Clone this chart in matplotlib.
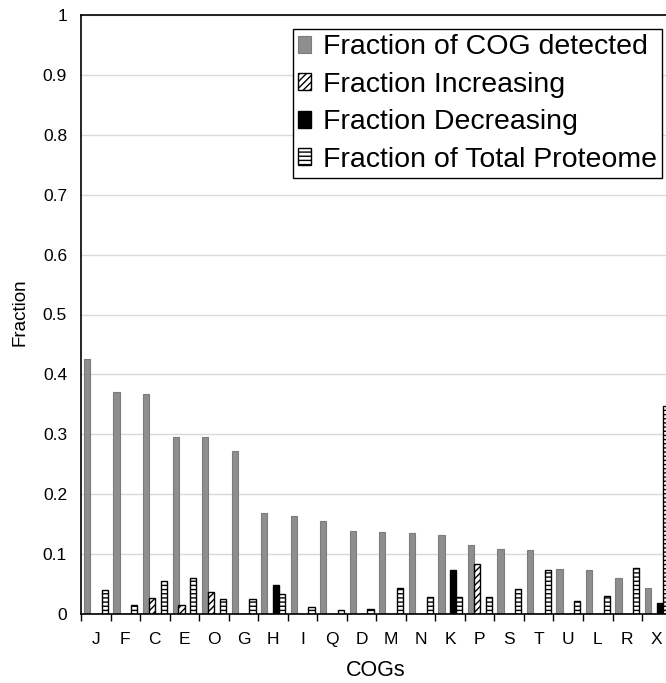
import matplotlib
matplotlib.use('Agg')
import matplotlib.pyplot as plt
import numpy as np

plt.rcParams['font.family'] = ['Liberation Sans', 'DejaVu Sans']
plt.rcParams['hatch.linewidth'] = 1.0

cogs = ['J', 'F', 'C', 'E', 'O', 'G', 'H', 'I', 'Q', 'D',
        'M', 'N', 'K', 'P', 'S', 'T', 'U', 'L', 'R', 'X']
detected = [0.425, 0.370, 0.367, 0.296, 0.296, 0.272, 0.169, 0.163, 0.155, 0.139,
            0.137, 0.135, 0.132, 0.115, 0.108, 0.107, 0.075, 0.074, 0.060, 0.044]
increasing = [0, 0, 0.026, 0.015, 0.036, 0, 0, 0, 0, 0,
              0, 0, 0, 0.084, 0, 0, 0, 0, 0, 0]
decreasing = [0, 0, 0, 0, 0, 0, 0.048, 0, 0, 0,
              0, 0, 0.073, 0, 0, 0, 0, 0, 0, 0.018]
proteome = [0.040, 0.015, 0.055, 0.060, 0.025, 0.025, 0.034, 0.011, 0.007, 0.008,
            0.044, 0.028, 0.029, 0.029, 0.041, 0.074, 0.022, 0.030, 0.076, 0.348]

fig = plt.figure(figsize=(6.66, 6.83), dpi=100)
# axes runs a bit past the right edge of the figure, as in the original
ax = fig.add_axes([81 / 666, 69 / 683, 590.6 / 666, 599 / 683])

x = np.arange(len(cogs))
w = 0.21
ax.bar(x + 0.1, detected, w, align='edge', color='#8e8e8e', edgecolor='#7c7c7c',
       linewidth=0.8, label='Fraction of COG detected', zorder=3)
ax.bar(x + 0.3, increasing, w, align='edge', color='white', edgecolor='black',
       hatch='/////', linewidth=1.0, label='Fraction Increasing', zorder=3)
ax.bar(x + 0.5, decreasing, w, align='edge', color='black', edgecolor='black',
       linewidth=1.0, label='Fraction Decreasing', zorder=3)
ax.bar(x + 0.7, proteome, w, align='edge', color='white', edgecolor='black',
       hatch='----', linewidth=1.0, label='Fraction of Total Proteome', zorder=3)

ax.set_xlim(0, 20)
ax.set_ylim(0, 1)
ax.set_yticks(np.arange(0, 1.01, 0.1))
ax.set_yticklabels(['0', '0.1', '0.2', '0.3', '0.4', '0.5', '0.6', '0.7', '0.8', '0.9', '1'])
ax.tick_params(axis='y', length=0, pad=10, labelsize=12.5)
ax.yaxis.grid(True, color='#d9d9d9', linewidth=1.0, zorder=0)

ax.set_xticks(np.arange(0, 21))
ax.set_xticklabels([])
ax.tick_params(axis='x', which='major', direction='out', length=5, width=1)
ax.set_xticks(x + 0.5, minor=True)
ax.set_xticklabels(cogs, minor=True)
ax.tick_params(axis='x', which='minor', length=0, pad=13, labelsize=12.5)

for s in ax.spines.values():
    s.set_linewidth(1.2)
    s.set_zorder(4)

fig.text(20 / 666, 1 - 312 / 683, 'Fraction', rotation=90, ha='center', va='center', fontsize=13.5)
fig.text(376 / 666, 1 - 671 / 683, 'COGs', ha='center', va='center', fontsize=15.5)

leg = ax.legend(loc='upper right', bbox_to_anchor=(661.7 / 666, 1 - 29.3 / 683),
                bbox_transform=fig.transFigure, borderaxespad=0, fontsize=20.5,
                fancybox=False, framealpha=1, edgecolor='black',
                handlelength=0.45, handleheight=0.55, handletextpad=0.4,
                labelspacing=0.4, borderpad=0.18)
leg.get_frame().set_linewidth(1.0)

fig.savefig('out.png', dpi=100)
